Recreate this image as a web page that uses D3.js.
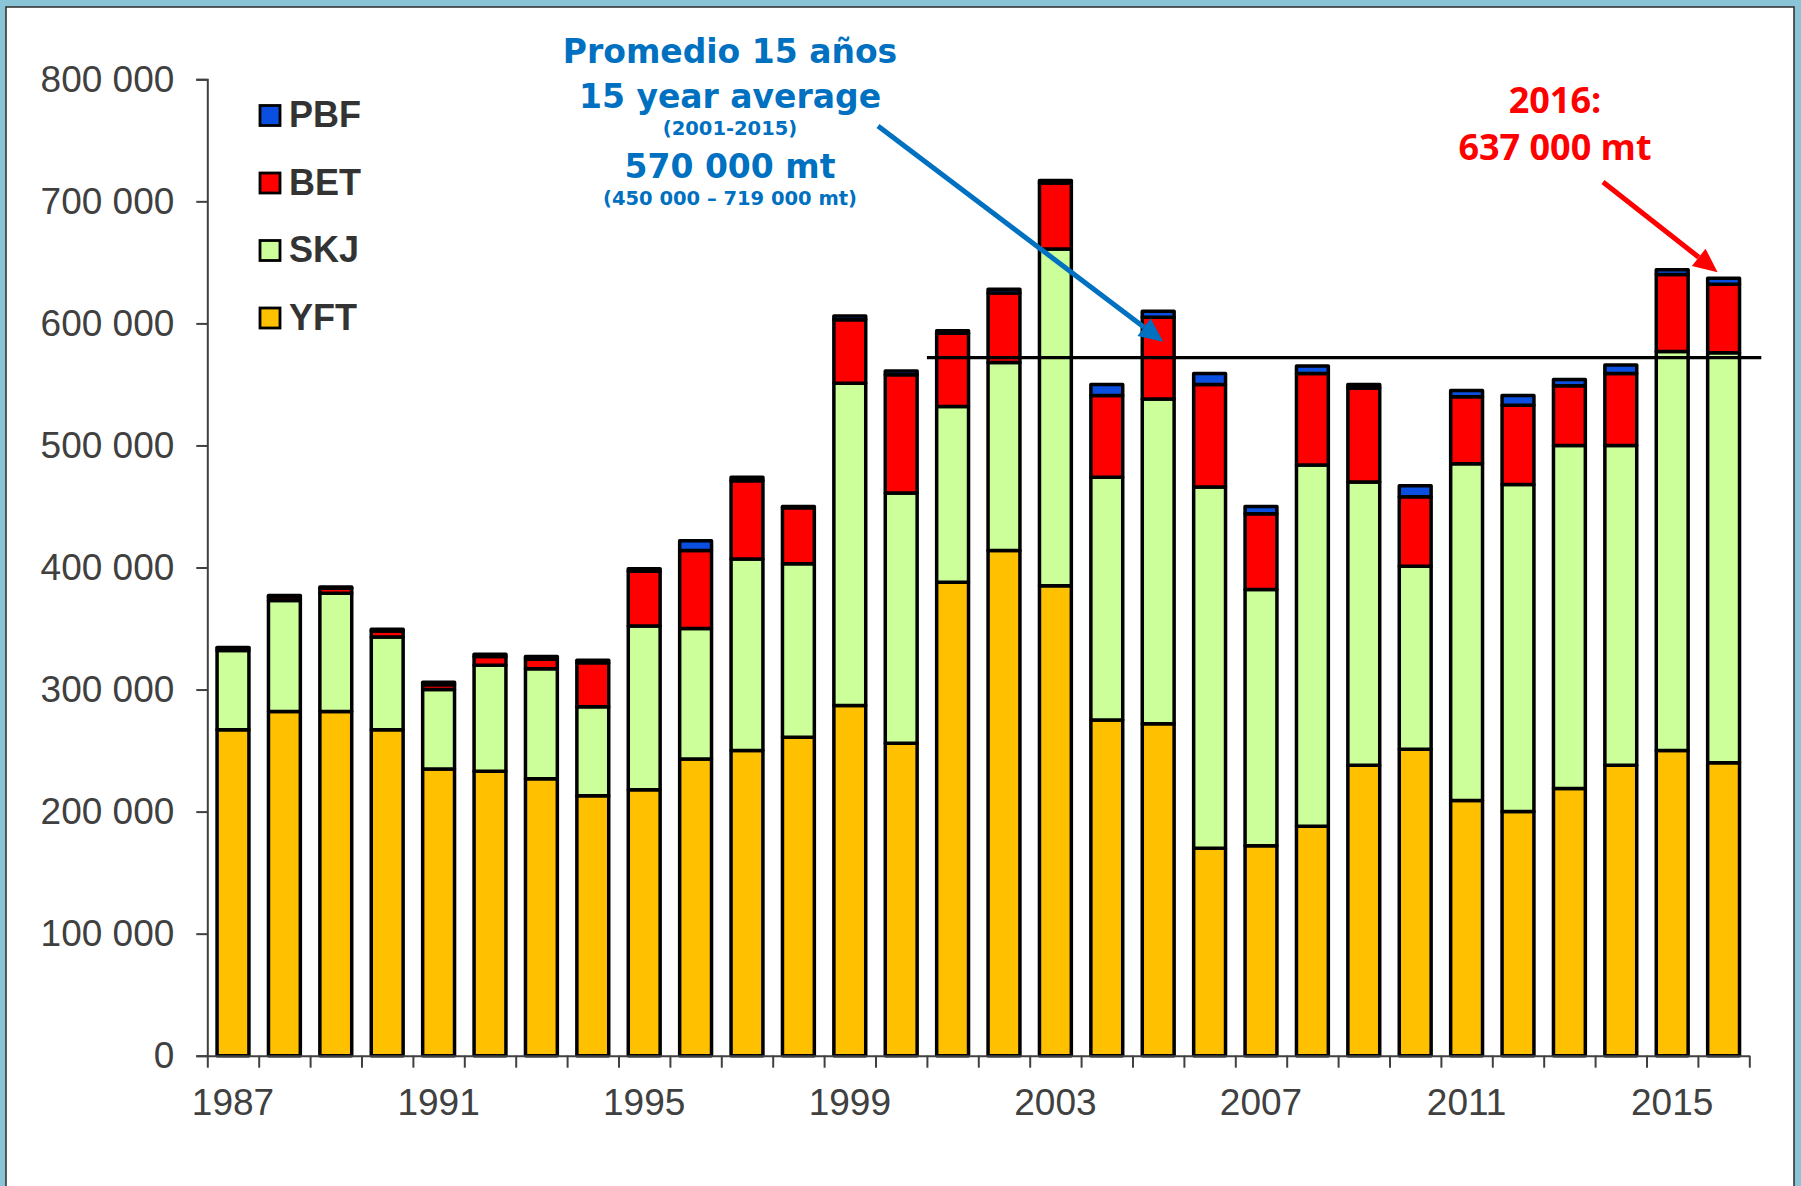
<!DOCTYPE html>
<meta charset="utf-8">
<style>
body { margin: 0; background: #8ac5d7; }
svg { display: block; }
.axis text { font-family: "Liberation Sans", Arial, sans-serif; font-size: 37px; fill: #404040; }
.axis path, .axis line { stroke: #404040; stroke-width: 2px; }
.legend text { font-family: "Liberation Sans", Arial, sans-serif; font-size: 36px; font-weight: bold; fill: #333; }
.blue-note { font-family: "DejaVu Sans", Verdana, sans-serif; font-weight: bold; fill: #0070c0; text-anchor: middle; }
.red-note { font-family: "Open Sans", sans-serif; font-weight: bold; fill: #ff0000; text-anchor: middle; font-size: 36px; }
</style>
<svg width="1801" height="1186"></svg>
<script src="https://cdn.jsdelivr.net/npm/d3@7"></script>
<script>

// catch by species, thousands of mt
var years = ["1987","1988","1989","1990","1991","1992","1993","1994","1995","1996",
             "1997","1998","1999","2000","2001","2002","2003","2004","2005","2006",
             "2007","2008","2009","2010","2011","2012","2013","2014","2015","2016"];
var yft = [267,282,282,267,235,233,227,213,218,243,250,261,287,256,388,414,385,275,272,170,172,188,238,251,209,200,219,238,250,240];
var skj = [65,91,97,76,65,87,90,73,134,107,157,142,264,205,144,154,276,199,266,296,210,296,232,150,276,268,281,262,327,336];
var bet = [2,3,4,5,4,7,8,36,45,64,64,46,52,97,60,57,54,67,67,84,62,75,77,57,55,65,49,59,63,56];
var pbf = [0.5,1,1,1.5,2,2,2,2,2,8,3,1,3,3,2,3,2,9,5,9,6,6,3,9,5,8,5,7,4,5];

var species = ["YFT", "SKJ", "BET", "PBF"];
var colors = {YFT: "#ffc000", SKJ: "#ccff99", BET: "#ff0000", PBF: "#0b4fe0"};
var yTicks = [0,100,200,300,400,500,600,700,800];
var labelYears = ["1987","1991","1995","1999","2003","2007","2011","2015"];
var avgValue = 572;      // 15 year average 2001-2015
var avgFrom = "2001";

var svg = d3.select("svg");

// frame
svg.append("rect")
    .attr("x", 6).attr("y", 7)
    .attr("width", 1788).attr("height", 1200)
    .attr("fill", "#fff")
    .attr("stroke", "#2b2b2b")
    .attr("stroke-width", 1.5);

var plotLeft = 207.3, plotRight = 1749.3, plotTop = 79.3, plotBottom = 1055.7;

var x = d3.scaleBand()
    .domain(years)
    .range([plotLeft, plotRight])
    .paddingInner(0.38)
    .paddingOuter(0.19);

var xEdges = d3.scaleLinear().domain([0, years.length]).range([plotLeft, plotRight]);

var y = d3.scaleLinear()
    .domain([0, 800])
    .range([plotBottom, plotTop]);

var table = years.map(function(yr, i) {
  return {year: yr, YFT: yft[i], SKJ: skj[i], BET: bet[i], PBF: pbf[i]};
});

var series = d3.stack().keys(species)(table);

svg.append("g")
  .selectAll("g")
  .data(series)
  .enter().append("g")
    .attr("fill", function(d) { return colors[d.key]; })
  .selectAll("rect")
  .data(function(d) { return d; })
  .enter().append("rect")
    .attr("x", function(d) { return x(d.data.year); })
    .attr("y", function(d) { return y(d[1]); })
    .attr("width", x.bandwidth())
    .attr("height", function(d) { return y(d[0]) - y(d[1]); })
    .attr("stroke", "#000")
    .attr("stroke-width", 3.5)
    .attr("stroke-linejoin", "round");

// y axis
svg.append("g")
    .attr("class", "axis")
    .attr("transform", "translate(" + plotLeft + ",0)")
    .call(d3.axisLeft(y)
      .tickValues(yTicks)
      .tickSize(11)
      .tickPadding(22)
      .tickSizeOuter(11)
      .tickFormat(function(v) { return d3.format(",")(v * 1000).replace(/,/g, " "); }));

// x axis: ticks on band edges, labels on band centres
svg.append("g")
    .attr("class", "axis")
    .attr("transform", "translate(0," + plotBottom + ")")
    .call(d3.axisBottom(xEdges)
      .tickValues(d3.range(years.length + 1))
      .tickSize(12)
      .tickSizeOuter(0)
      .tickFormat(""));

svg.append("g")
    .attr("class", "axis")
    .attr("transform", "translate(0," + plotBottom + ")")
    .call(d3.axisBottom(x)
      .tickValues(labelYears)
      .tickSize(0)
      .tickPadding(33))
    .call(function(g) { g.select(".domain").remove(); });

// average line
svg.append("line")
    .attr("x1", x(avgFrom) - x.step() * x.paddingInner() / 2)
    .attr("x2", plotRight + 12)
    .attr("y1", y(avgValue))
    .attr("y2", y(avgValue))
    .attr("stroke", "#000")
    .attr("stroke-width", 3.2);

// legend
var legend = svg.append("g")
    .attr("class", "legend")
  .selectAll("g")
  .data(species.slice().reverse())
  .enter().append("g")
    .attr("transform", function(d, i) { return "translate(260," + (105.5 + i * 67.5) + ")"; });

legend.append("rect")
    .attr("width", 20).attr("height", 20)
    .attr("fill", function(d) { return colors[d]; })
    .attr("stroke", "#000")
    .attr("stroke-width", 2.8);

legend.append("text")
    .attr("x", 29)
    .attr("y", 21.5)
    .text(function(d) { return d; });

// annotations
function arrow(x1, y1, x2, y2, color) {
  var a = Math.atan2(y2 - y1, x2 - x1), len = 24, w = 11;
  var bx = x2 - len * Math.cos(a), by = y2 - len * Math.sin(a);
  svg.append("line")
      .attr("x1", x1).attr("y1", y1)
      .attr("x2", bx).attr("y2", by)
      .attr("stroke", color)
      .attr("stroke-width", 5);
  svg.append("path")
      .attr("d", "M" + x2 + "," + y2 +
                 "L" + (bx + w * Math.sin(a)) + "," + (by - w * Math.cos(a)) +
                 "L" + (bx - w * Math.sin(a)) + "," + (by + w * Math.cos(a)) + "Z")
      .attr("fill", color);
}

var blueLines = [
  {t: "Promedio 15 años", y: 63, s: 33},
  {t: "15 year average", y: 108, s: 33},
  {t: "(2001-2015)", y: 135, s: 19.5},
  {t: "570 000 mt", y: 178, s: 33},
  {t: "(450 000 – 719 000 mt)", y: 205, s: 19.5}
];
svg.selectAll(".blue-note")
  .data(blueLines)
  .enter().append("text")
    .attr("class", "blue-note")
    .attr("x", 730)
    .attr("y", function(d) { return d.y; })
    .style("font-size", function(d) { return d.s + "px"; })
    .text(function(d) { return d.t; });

arrow(878, 126, x("2005") + x.bandwidth() / 2 + 5, y(585), "#0070c0");

svg.append("text").attr("class", "red-note").attr("x", 1555).attr("y", 113).text("2016:");
svg.append("text").attr("class", "red-note").attr("x", 1555).attr("y", 160).text("637 000 mt");

arrow(1603, 182, x("2016") + x.bandwidth() / 2 - 6, y(642), "#ff0000");

</script>
